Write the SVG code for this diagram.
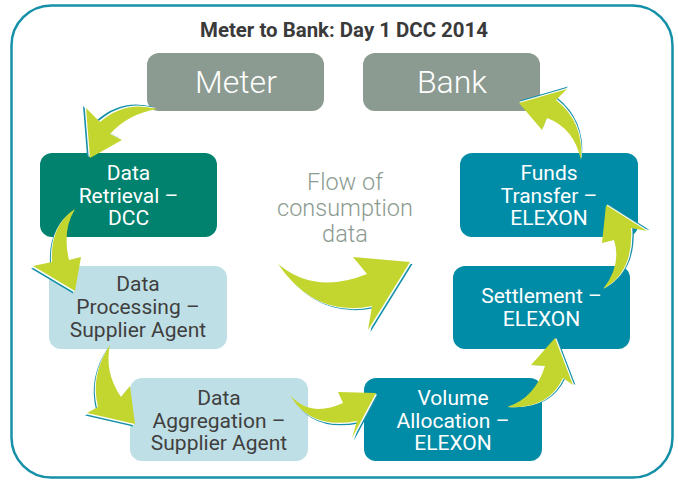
<svg xmlns="http://www.w3.org/2000/svg" xmlns:xlink="http://www.w3.org/1999/xlink" width="678" height="483" viewBox="0 0 678 483">
<style>
.frame{fill:#fff;stroke:#1690a8;stroke-width:2.5}
.title{font-family:Roboto,"Liberation Sans",sans-serif;font-weight:700;font-size:19.5px;fill:#3a3a3a;text-anchor:middle}
.big{font-family:Roboto,"Liberation Sans",sans-serif;font-weight:300;font-size:32px;fill:#fff;text-anchor:middle}
.lbl{font-family:Roboto,"Liberation Sans",sans-serif;font-size:21px;text-anchor:middle}
.w{fill:#fff}
.d{fill:#3f3f3f}
.flow{font-family:Roboto,"Liberation Sans",sans-serif;font-weight:300;font-size:23.5px;fill:#8c9b91;text-anchor:middle}
.gray{fill:#8c9b91}
.green{fill:#00826f}
.light{fill:#bfdfe6}
.teal{fill:#008ba6}
.lime{fill:#c3d62f}
.sh1{fill:#1691a9}
.sh2{fill:#fff}
</style>
<defs>
<path id="a1" d="M157,109 Q125,100 100,122 L86,108 L90,158 L122,140 L110,134 Q128,114 157,109 Z"/>
<path id="a2" d="M519,103 L567,89 L556,100 Q584,122 581,160 Q574,128 547,118 L542,130 Z"/>
<path id="a3" d="M75,209 Q50,225 52,262 L33,266 L75,291 L81,257 L69,260 Q62,230 75,209 Z"/>
<path id="a4" d="M278,264 Q315,295 367,274 L353,257 L410,262 L368,330 L372,306 Q315,318 278,264 Z"/>
<path id="a5" d="M110,345 Q90,375 98,407 L87,413 L135,424 L130,386 L121,397 Q104,372 110,345 Z"/>
<path id="a6" d="M290,395 Q310,418 343,403 L338,392 L376,393 L352,438 L357,421 Q310,430 290,395 Z"/>
<path id="a7" d="M606,205 L647,231 L631,228 Q634,272 603,289 Q622,265 614,240 L602,243 Z"/>
<path id="a8" d="M555,338 L573,385 L563,378 Q548,410 507,407 Q535,398 545,366 L531,365 Z"/>
</defs>
<rect class="frame" x="11.5" y="5.5" width="661" height="472" rx="40"/>
<text class="title" x="344" y="37" textLength="288" lengthAdjust="spacingAndGlyphs">Meter to Bank: Day 1 DCC 2014</text>
<text class="flow" x="345" y="190">Flow of</text>
<text class="flow" x="345" y="216">consumption</text>
<text class="flow" x="345" y="242">data</text>

<g id="meter"><rect class="gray" x="147" y="53" width="177" height="58" rx="12"/><text class="big" x="236" y="93">Meter</text></g>
<g id="bank"><rect class="gray" x="363" y="53" width="177" height="58" rx="12"/><text class="big" x="452" y="93">Bank</text></g>
<g id="retrieval"><rect class="green" x="40" y="153" width="177" height="84" rx="12"/><text class="lbl w" x="128.5" y="180">Data</text><text class="lbl w" x="128.5" y="203">Retrieval –</text><text class="lbl w" x="128.5" y="225">DCC</text></g>
<g id="processing"><rect class="light" x="49" y="266" width="178" height="83" rx="12"/><text class="lbl d" x="138" y="291">Data</text><text class="lbl d" x="138" y="314">Processing –</text><text class="lbl d" x="138" y="337">Supplier Agent</text></g>
<g id="aggregation"><rect class="light" x="130" y="378" width="178" height="83" rx="12"/><text class="lbl d" x="219" y="405">Data</text><text class="lbl d" x="219" y="428">Aggregation –</text><text class="lbl d" x="219" y="450">Supplier Agent</text></g>
<g id="volume"><rect class="teal" x="364" y="378" width="178" height="83" rx="12"/><text class="lbl w" x="453" y="405">Volume</text><text class="lbl w" x="453" y="428">Allocation –</text><text class="lbl w" x="453" y="450">ELEXON</text></g>
<g id="settlement"><rect class="teal" x="453" y="266" width="177" height="83" rx="12"/><text class="lbl w" x="541.5" y="303">Settlement –</text><text class="lbl w" x="541.5" y="326">ELEXON</text></g>
<g id="funds"><rect class="teal" x="460" y="153" width="178" height="84" rx="12"/><text class="lbl w" x="549" y="180">Funds</text><text class="lbl w" x="549" y="203">Transfer –</text><text class="lbl w" x="549" y="225">ELEXON</text></g>

<g id="connectors">
<use xlink:href="#a1" class="sh1" transform="translate(-3,-2)"/><use xlink:href="#a1" class="sh2" transform="translate(-1.3,-1)"/><use xlink:href="#a1" class="lime"/>
<use xlink:href="#a2" class="sh1" transform="translate(1,-2.5)"/><use xlink:href="#a2" class="sh2" transform="translate(0.5,-1.2)"/><use xlink:href="#a2" class="lime"/>
<use xlink:href="#a3" class="sh1" transform="translate(-2,2.5)"/><use xlink:href="#a3" class="sh2" transform="translate(-1,1.2)"/><use xlink:href="#a3" class="lime"/>
<use xlink:href="#a4" class="sh1" transform="translate(2.5,2)"/><use xlink:href="#a4" class="sh2" transform="translate(1.2,1)"/><use xlink:href="#a4" class="lime"/>
<use xlink:href="#a5" class="sh1" transform="translate(-2,2.5)"/><use xlink:href="#a5" class="sh2" transform="translate(-1,1.2)"/><use xlink:href="#a5" class="lime"/>
<use xlink:href="#a6" class="sh1" transform="translate(2,2.5)"/><use xlink:href="#a6" class="sh2" transform="translate(1,1.2)"/><use xlink:href="#a6" class="lime"/>
<use xlink:href="#a7" class="sh1" transform="translate(2.5,-1)"/><use xlink:href="#a7" class="sh2" transform="translate(1.2,-0.5)"/><use xlink:href="#a7" class="lime"/>
<use xlink:href="#a8" class="sh1" transform="translate(2.5,0)"/><use xlink:href="#a8" class="sh2" transform="translate(1.2,0)"/><use xlink:href="#a8" class="lime"/>
</g>
</svg>
